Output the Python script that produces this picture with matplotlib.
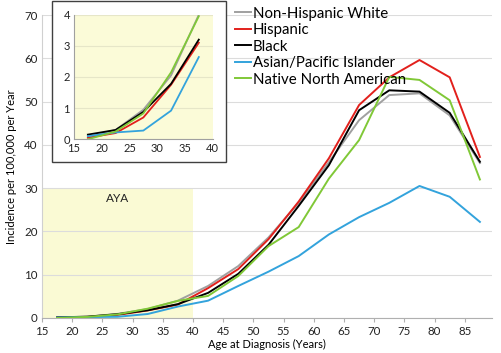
import numpy as np
import matplotlib.pyplot as plt
from matplotlib.patches import Rectangle

plt.rcParams["font.family"] = ["Lato", "DejaVu Sans"]

# ============== Data ===================
ages = [17.5, 22.5, 27.5, 32.5, 37.5, 42.5, 47.5, 52.5, 57.5, 62.5,
        67.5, 72.5, 77.5, 82.5, 87.5]
white = [0.1, 0.3, 0.95, 2.05, 4.0, 7.4, 12.0, 18.6, 26.6, 36.0, 45.7, 51.5, 51.9, 46.8, 35.8]
hispanic = [0.05, 0.2, 0.7, 1.75, 3.1, 6.9, 11.3, 18.2, 26.9, 36.9, 49.2, 55.6, 59.6, 55.6, 37.2]
black = [0.15, 0.3, 0.88, 1.78, 3.2, 5.8, 10.2, 16.9, 25.9, 35.3, 48.0, 52.6, 52.3, 47.4, 36.1]
asian = [0.1, 0.22, 0.28, 0.92, 2.64, 4.0, 7.4, 10.7, 14.3, 19.3, 23.3, 26.6, 30.5, 28.0, 22.2]
native = [0.0, 0.25, 0.83, 2.15, 3.95, 5.1, 9.7, 16.6, 21.0, 32.2, 41.1, 55.7, 55.0, 50.3, 32.0]

series = [
    ("Non-Hispanic White", white, "#a0a0a0"),
    ("Hispanic", hispanic, "#e2201c"),
    ("Black", black, "#000000"),
    ("Asian/Pacific Islander", asian, "#33a3dc"),
    ("Native North American", native, "#80c837"),
]
n_inset = 5  # age groups inside AYA (15-39)

# ============== Main chart ===================
fig = plt.figure(figsize=(5.01, 3.53), dpi=100)
ax = fig.add_axes([0.0838, 0.0992, 0.8982, 0.8583])
ax.set_zorder(0)

ax.add_patch(Rectangle((15, 0), 25, 30, facecolor="#fafad4", edgecolor="none", zorder=0))
ax.text(27.6, 27.5, "AYA", fontsize=8.5, ha="center", va="center", color="#222222")

for name, vals, col in series:
    ax.plot(ages, vals, color=col, lw=1.4, label=name, zorder=3)

ax.set_xlim(15, 89.5)
ax.set_ylim(0, 70)
ax.set_xticks(np.arange(15, 90, 5))
ax.set_yticks(np.arange(0, 71, 10))
ax.yaxis.grid(True, color="#dcdcdc", lw=0.8)
ax.set_axisbelow(True)
for s in ["top", "right"]:
    ax.spines[s].set_visible(False)
ax.spines["left"].set_color("#d0d0d0")
ax.spines["bottom"].set_color("#b0b0b0")
ax.tick_params(axis="both", labelsize=8.3, colors="#222222", length=0, pad=3)
ax.tick_params(axis="x", length=3, color="#b0b0b0")
ax.set_xlabel("Age at Diagnosis (Years)", fontsize=8, labelpad=1)
ax.set_ylabel("Incidence per 100,000 per Year", fontsize=8, labelpad=5)

leg = ax.legend(loc="upper left", bbox_to_anchor=(0.429, 1.028), fontsize=10.8, frameon=False,
                handlelength=1.05, handletextpad=0.15, labelspacing=0.17, borderaxespad=0,
                borderpad=0)

# ============== Inset frame ===================
frame = Rectangle((0.1038, 0.541), 0.347, 0.457, transform=fig.transFigure,
                  facecolor="white", edgecolor="#404040", lw=1.0, zorder=1)
fig.patches.append(frame)

# ============== Inset chart ===================
axi = fig.add_axes([0.1477, 0.6054, 0.2768, 0.353])
axi.set_zorder(2)
axi.set_facecolor("#fbfbd8")
for name, vals, col in series:
    axi.plot(ages[:n_inset], vals[:n_inset], color=col, lw=1.3)
axi.set_xlim(15, 40)
axi.set_ylim(0, 4)
axi.set_xticks(np.arange(15, 41, 5))
axi.set_yticks(np.arange(0, 5, 1))
axi.yaxis.grid(True, color="#e6e6c8", lw=0.8)
axi.set_axisbelow(True)
for s in ["top", "right"]:
    axi.spines[s].set_visible(False)
axi.spines["left"].set_color("#a0a0a0")
axi.spines["bottom"].set_color("#a0a0a0")
axi.tick_params(axis="both", labelsize=8, colors="#222222", length=0, pad=3)

fig.savefig("out.png", dpi=100)
